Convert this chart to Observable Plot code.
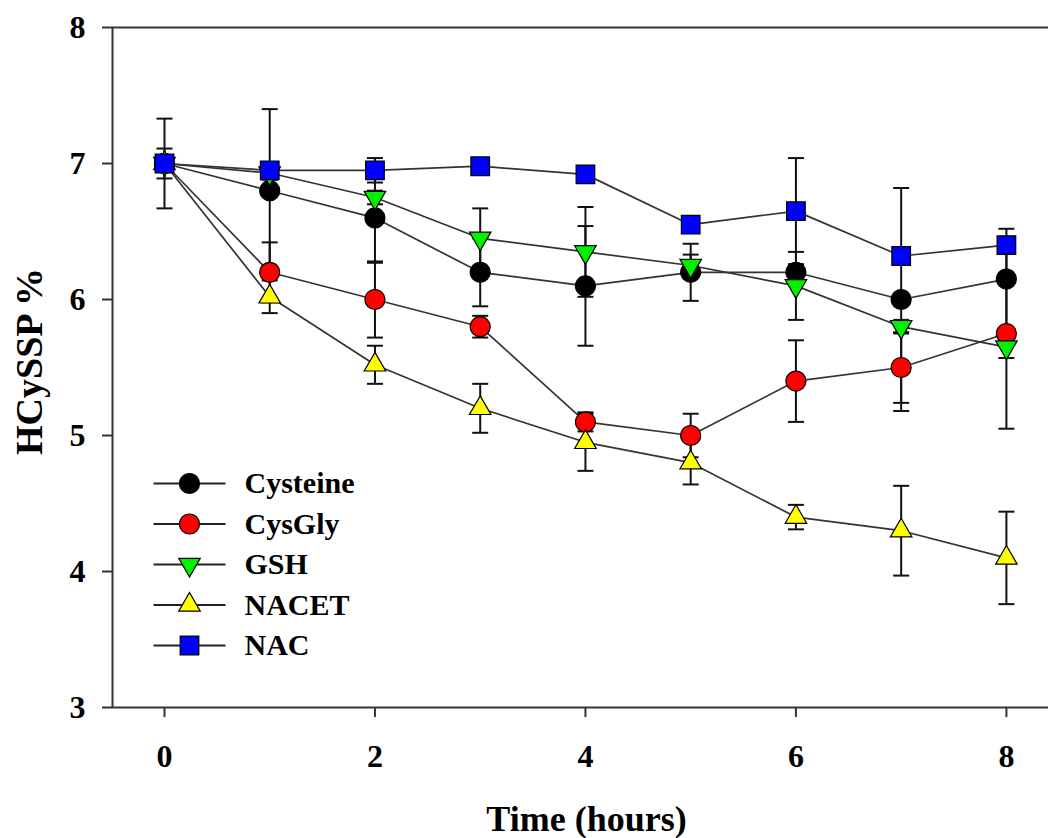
<!DOCTYPE html>
<html>
<head>
<meta charset="utf-8">
<script src="https://cdn.jsdelivr.net/npm/d3@7"></script>
<script src="https://cdn.jsdelivr.net/npm/@observablehq/plot@0.6"></script>
<style>
  html, body { margin: 0; padding: 0; background: #fff; }
  #chart svg { display: block; }
</style>
</head>
<body>
<div id="chart"></div>
<script>
// ---- data ----
const hours = [0, 1, 2, 3, 4, 5, 6, 7, 8];
const seriesNames = ["Cysteine", "CysGly", "GSH", "NACET", "NAC"];
const cysteine    = [7.00, 6.80, 6.60, 6.20, 6.10, 6.20, 6.20, 6.00, 6.15];
const cysteineErr = [0.33, 0.60, 0.33, 0.25, 0.44, 0.21, 0.05, 0.82, 0.37];
const cysGly      = [7.00, 6.20, 6.00, 5.80, 5.10, 5.00, 5.40, 5.50, 5.75];
const cysGlyErr   = [0.05, 0.22, 0.28, 0.08, 0.07, 0.16, 0.30, 0.26, 0.70];
const gsh         = [7.00, 6.93, 6.75, 6.45, 6.35, 6.25, 6.10, 5.80, 5.65];
const gshErr      = [0.05, 0.05, 0.05, 0.22, 0.33, 0.08, 0.25, 0.05, 0.08];
const nacet       = [7.00, 6.02, 5.52, 5.20, 4.95, 4.80, 4.40, 4.30, 4.10];
const nacetErr    = [0.05, 0.12, 0.14, 0.18, 0.21, 0.16, 0.09, 0.33, 0.34];
const nac         = [7.00, 6.95, 6.95, 6.98, 6.92, 6.55, 6.65, 6.32, 6.40];
const nacErr      = [0.11, 0.05, 0.09, 0.05, 0.05, 0.05, 0.39, 0.05, 0.05];
const xTicks = [0, 2, 4, 6, 8];
const yTicks = [3, 4, 5, 6, 7, 8];

// ---- styling ----
const W = 1048, H = 838, mL = 112, mR = 0, mT = 27, mB = 131;
const xDomain = [-0.494, 8.4], yDomain = [3, 8];
const FONT = "'Liberation Serif', 'Times New Roman', serif";

const triDown = {
  draw(context, size) {
    const y = Math.sqrt(size / (Math.sqrt(3) * 3));
    context.moveTo(0, 2 * y);
    context.lineTo(-Math.sqrt(3) * y, -y);
    context.lineTo(Math.sqrt(3) * y, -y);
    context.closePath();
  }
};
const capSymbol = {
  draw(context, size) {
    const r = Math.sqrt(size / Math.PI);
    context.moveTo(-r, 0);
    context.lineTo(r, 0);
  }
};

const styles = {
  Cysteine: {symbol: "circle", fill: "#000000", r: 10},
  CysGly:   {symbol: "circle", fill: "#ff0000", r: 10},
  GSH:      {symbol: triDown,  fill: "#00f000", r: 8},
  NACET:    {symbol: "triangle", fill: "#ffff00", r: 8},
  NAC:      {symbol: "square", fill: "#0000ff", r: 10.5}
};

const valuesBy = {Cysteine: cysteine, CysGly: cysGly, GSH: gsh, NACET: nacet, NAC: nac};
const errBy = {Cysteine: cysteineErr, CysGly: cysGlyErr, GSH: gshErr, NACET: nacetErr, NAC: nacErr};

const rows = [];
for (const name of seriesNames) {
  hours.forEach((t, i) => {
    rows.push({series: name, t, v: valuesBy[name][i], e: errBy[name][i]});
  });
}

// pixel -> data helpers for legend placement
const px2x = px => xDomain[0] + (px - mL) / (W - mL - mR) * (xDomain[1] - xDomain[0]);
const py2y = py => yDomain[1] - (py - mT) / (H - mT - mB) * (yDomain[1] - yDomain[0]);

const marks = [];
// frame lines (top, left, bottom)
marks.push(Plot.ruleY([yDomain[1]], {stroke: "#333", strokeWidth: 2}));
marks.push(Plot.ruleY([yDomain[0]], {stroke: "#333", strokeWidth: 2}));
marks.push(Plot.ruleX([xDomain[0]], {stroke: "#333", strokeWidth: 2}));

// connecting lines
for (const name of seriesNames) {
  marks.push(Plot.line(rows.filter(d => d.series === name), {x: "t", y: "v", stroke: "#333", strokeWidth: 1.7}));
}
// error bars + caps per series
for (const name of seriesNames) {
  const data = rows.filter(d => d.series === name);
  marks.push(Plot.ruleX(data, {x: "t", y1: d => d.v - d.e, y2: d => d.v + d.e, stroke: "#111", strokeWidth: 2}));
  marks.push(Plot.dot(data, {x: "t", y: d => d.v + d.e, symbol: capSymbol, r: 8, stroke: "#111", strokeWidth: 2}));
  marks.push(Plot.dot(data, {x: "t", y: d => d.v - d.e, symbol: capSymbol, r: 8, stroke: "#111", strokeWidth: 2}));
}
// markers
for (const name of seriesNames) {
  const data = rows.filter(d => d.series === name);
  const s = styles[name];
  marks.push(Plot.dot(data, {x: "t", y: "v", symbol: s.symbol, r: s.r, fill: s.fill, stroke: "#000", strokeWidth: 1.2}));
}

// legend
seriesNames.forEach((name, i) => {
  const py = 483 + i * 40.5;
  const s = styles[name];
  const yv = py2y(py);
  marks.push(Plot.link([name], {x1: px2x(153), x2: px2x(225), y1: yv, y2: yv, stroke: "#222", strokeWidth: 2}));
  marks.push(Plot.dot([name], {x: px2x(189), y: yv, symbol: s.symbol, r: s.r, fill: s.fill, stroke: "#000", strokeWidth: 1.2}));
  marks.push(Plot.text([name], {x: px2x(244), y: yv, text: d => d, textAnchor: "start", fontSize: 30, fontWeight: "bold", fill: "#000"}));
});

// axes
marks.push(Plot.axisX(xTicks, {tickSize: 10, tickPadding: 27, tickFormat: "d", fontSize: 32, fontWeight: "bold", stroke: "#333", strokeWidth: 2, label: null}));
marks.push(Plot.axisY(yTicks, {tickSize: 10, tickPadding: 17, tickFormat: "d", fontSize: 32, fontWeight: "bold", stroke: "#333", strokeWidth: 2, label: null}));
// axis titles
marks.push(Plot.text(["Time (hours)"], {frameAnchor: "bottom", dx: 6, dy: 112, text: d => d, fontSize: 36, fontWeight: "bold", textAnchor: "middle", lineAnchor: "middle"}));
marks.push(Plot.text(["HCySSP %"], {frameAnchor: "left", dx: -83, dy: -6, rotate: -90, text: d => d, fontSize: 38, fontWeight: "bold", textAnchor: "middle", lineAnchor: "middle"}));

const chart = Plot.plot({
  width: W, height: H,
  marginLeft: mL, marginRight: mR, marginTop: mT, marginBottom: mB,
  x: {domain: xDomain},
  y: {domain: yDomain},
  style: {fontFamily: FONT, color: "#000", background: "#fff", overflow: "visible"},
  marks
});
document.getElementById("chart").appendChild(chart);
</script>
</body>
</html>
